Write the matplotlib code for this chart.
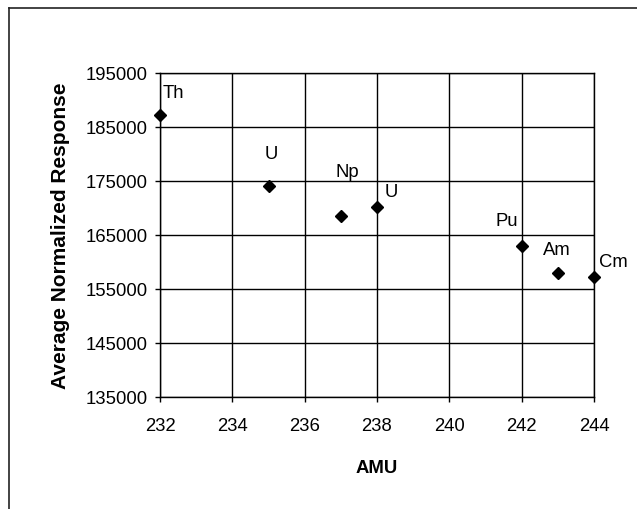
import matplotlib
matplotlib.use("Agg")
import matplotlib.pyplot as plt
from matplotlib.lines import Line2D

# datos
amu = [232, 235, 237, 238, 242, 243, 244]
respuesta = [187200, 174000, 168600, 170200, 163000, 158000, 157300]
elementos = ["Th", "U", "Np", "U", "Pu", "Am", "Cm"]
xticks = [232, 234, 236, 238, 240, 242, 244]
yticks = [135000, 145000, 155000, 165000, 175000, 185000, 195000]

# desplazamiento de cada etiqueta (pixeles)
offsets = [(13, 23), (3, 33), (6, 44), (14, 15), (-15, 25), (-1, 23), (19, 15)]

plt.rcParams["font.family"] = ["Liberation Sans", "DejaVu Sans"]
fig = plt.figure(figsize=(6.37, 5.10), dpi=100)
ax = fig.add_axes([160 / 637, 112 / 510, 434 / 637, 324 / 510])

ax.plot(amu, respuesta, linestyle="none", marker="D", markersize=6,
        color="black", clip_on=False, zorder=5)
for x, y, t, off in zip(amu, respuesta, elementos, offsets):
    ax.annotate(t, (x, y), xytext=off, textcoords="offset pixels",
                ha="center", va="center", fontsize=13.3)

ax.set_xlim(232, 244)
ax.set_ylim(135000, 195000)
ax.set_xticks(xticks)
ax.set_yticks(yticks)
ax.set_yticklabels([str(v) for v in yticks])
ax.grid(True, color="black", linewidth=1)
ax.set_axisbelow(True)
for s in ax.spines.values():
    s.set_color("black")
    s.set_linewidth(1)
ax.tick_params(axis="both", labelsize=13.3, length=3.6, width=1, color="black")
ax.tick_params(axis="x", pad=10.5)
ax.tick_params(axis="y", pad=5.5)

ax.set_xlabel("AMU", fontsize=13.3, fontweight="bold", labelpad=18)
ax.set_ylabel("Average Normalized Response", fontsize=15, fontweight="bold",
              labelpad=11)

# borde del recuadro del grafico
fig.add_artist(Line2D([9 / 637, 9 / 637], [0, 1 - 9 / 510], color="#222222",
                      linewidth=1.2, transform=fig.transFigure))
fig.add_artist(Line2D([9 / 637, 1], [1 - 9 / 510, 1 - 9 / 510], color="#222222",
                      linewidth=1.2, transform=fig.transFigure))

fig.savefig("out.png", dpi=100)
